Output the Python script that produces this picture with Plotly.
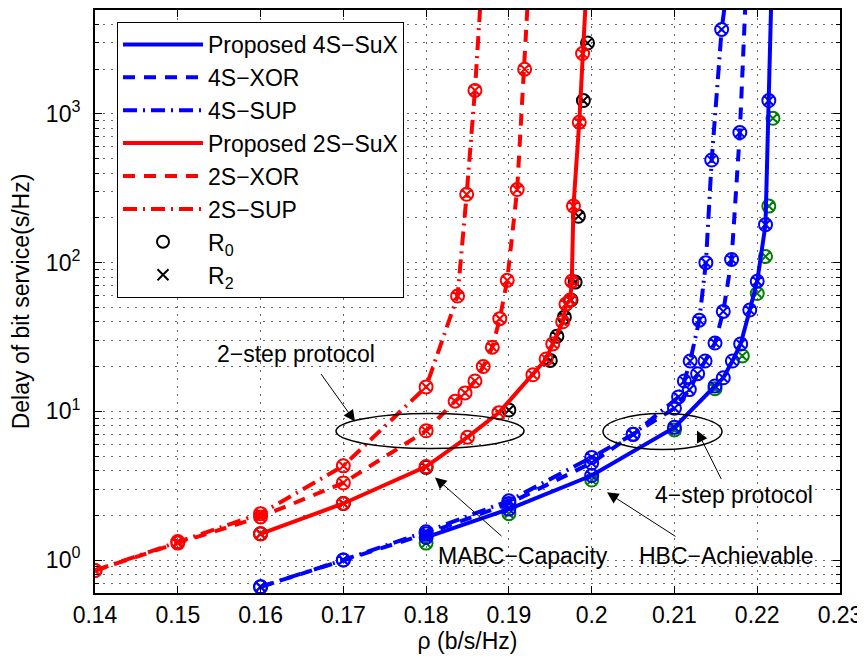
import plotly.graph_objects as go

# ---------------- data ----------------
x_4s_sux = [0.18, 0.19, 0.20, 0.21, 0.2149, 0.2159, 0.2170, 0.2180, 0.2191, 0.2200, 0.2210, 0.2214, 0.2217]
y_4s_sux = [1.42, 2.2, 3.7, 7.8, 14.8, 16.8, 21.8, 28.4, 48, 75, 180, 1230, 6000]

x_4s_xor = [0.16, 0.17, 0.18, 0.19, 0.20, 0.205, 0.21, 0.2118, 0.2128, 0.2137, 0.2149, 0.2159, 0.2169, 0.2179, 0.2186]
y_4s_xor = [0.66, 1.0, 1.5, 2.4, 4.5, 7.0, 10.5, 14, 17.9, 21.8, 28.8, 47, 105, 750, 6000]

x_4s_sup = [0.16, 0.17, 0.18, 0.19, 0.20, 0.205, 0.2105, 0.2112, 0.2119, 0.2130, 0.2138, 0.2145, 0.2157, 0.2162]
y_4s_sup = [0.66, 1.0, 1.55, 2.5, 4.9, 7.0, 12.5, 16, 21.8, 41, 100, 490, 3700, 6000]

x_2s_sux = [0.16, 0.17, 0.18, 0.185, 0.1888, 0.1929, 0.1945, 0.1953, 0.1965, 0.1969, 0.1974, 0.1976, 0.1978, 0.1985, 0.1989, 0.1993]
y_2s_sux = [1.5, 2.4, 4.25, 6.7, 9.8, 17.6, 22.5, 28.4, 40, 52.6, 56, 75, 240, 880, 2550, 6000]

x_2s_xor = [0.14, 0.15, 0.16, 0.17, 0.18, 0.1835, 0.1847, 0.1859, 0.1869, 0.1880, 0.1889, 0.1898, 0.1910, 0.1919, 0.1923]
y_2s_xor = [0.85, 1.3, 1.95, 3.3, 7.4, 11.7, 13.3, 16, 20, 27, 42, 76, 310, 2000, 6000]

x_2s_sup = [0.14, 0.15, 0.16, 0.17, 0.18, 0.1838, 0.1849, 0.1859, 0.1866]
y_2s_sup = [0.85, 1.33, 2.05, 4.3, 14.6, 59.6, 288, 1440, 6000]

# MABC-Capacity (black) and HBC-Achievable (green) reference markers
x_mabc = [0.16, 0.17, 0.18, 0.19, 0.195, 0.1958, 0.1967, 0.1975, 0.1980, 0.1984, 0.1990, 0.1995]
y_mabc = [1.5, 2.4, 4.2, 10.2, 22, 32, 43, 56, 74, 205, 1230, 3000]

x_hbc = [0.18, 0.19, 0.20, 0.21, 0.2149, 0.2182, 0.2200, 0.2210, 0.2214, 0.2219]
y_hbc = [1.3, 2.05, 3.45, 7.5, 14.2, 23.6, 62, 110, 240, 935]

x_ticks = [0.14, 0.15, 0.16, 0.17, 0.18, 0.19, 0.20, 0.21, 0.22, 0.23]
x_ticktext = ["0.14", "0.15", "0.16", "0.17", "0.18", "0.19", "0.2", "0.21", "0.22", "0.23"]
y_ticks = [1, 10, 100, 1000]
y_ticktext = ["10<sup>0</sup>", "10<sup>1</sup>", "10<sup>2</sup>", "10<sup>3</sup>"]

# ---------------- styling ----------------
FONT = "Liberation Sans, Arial, Helvetica, sans-serif"
FS = 23
RED = "#ff0000"
BLUE = "#0000ff"
GREEN = "#008000"
LW = 4
DASH = "12px,9px"
DASHDOT = "14px,6px,2px,6px"
MSIZE = 13

fig = go.Figure()

series = [
    ("Proposed 4S\u2212SuX", x_4s_sux, y_4s_sux, BLUE, "solid"),
    ("4S\u2212XOR", x_4s_xor, y_4s_xor, BLUE, DASH),
    ("4S\u2212SUP", x_4s_sup, y_4s_sup, BLUE, DASHDOT),
    ("Proposed 2S\u2212SuX", x_2s_sux, y_2s_sux, RED, "solid"),
    ("2S\u2212XOR", x_2s_xor, y_2s_xor, RED, DASH),
    ("2S\u2212SUP", x_2s_sup, y_2s_sup, RED, DASHDOT),
]

# reference-curve markers underneath
fig.add_trace(go.Scatter(
    x=x_mabc, y=y_mabc, mode="markers", showlegend=False,
    marker=dict(symbol="circle-x-open", size=MSIZE, color="black", line=dict(width=2, color="black")),
))
fig.add_trace(go.Scatter(
    x=x_hbc, y=y_hbc, mode="markers", showlegend=False,
    marker=dict(symbol="circle-x-open", size=MSIZE, color=GREEN, line=dict(width=2, color=GREEN)),
))

# line layers (with legend)
for i, (name, xs, ys, col, dash) in enumerate(series):
    fig.add_trace(go.Scatter(
        x=xs, y=ys, mode="lines", name=name,
        line=dict(color=col, width=LW, dash=dash),
    ))

# marker layers (no legend)
for name, xs, ys, col, dash in series:
    fig.add_trace(go.Scatter(
        x=xs, y=ys, mode="markers", showlegend=False, hoverinfo="skip",
        marker=dict(symbol="circle-x-open", size=MSIZE, color=col, line=dict(width=2, color=col)),
    ))

# legend-only marker entries
fig.add_trace(go.Scatter(
    x=[None], y=[None], mode="markers", name="R<sub>0</sub>",
    marker=dict(symbol="circle-open", size=12, color="black", line=dict(width=2, color="black")),
))
fig.add_trace(go.Scatter(
    x=[None], y=[None], mode="markers", name="R<sub>2</sub>",
    marker=dict(symbol="x-thin-open", size=11, color="black", line=dict(width=2, color="black")),
))

# ---------------- layout geometry ----------------
# the page body adds an 8px offset; target plot area in the screenshot is x 95..840, y 7..593
OFF = 8
W, H = 865 - OFF, 661 - OFF
L, R, T, B = 95, 840, 8, 593


def px(x):
    return (x - L) / (R - L)


def py(y):
    return (B - y) / (B - T)


shapes = [
    dict(type="circle", xref="paper", yref="paper",
         x0=px(336), x1=px(524), y0=py(448), y1=py(413),
         line=dict(color="black", width=1.5)),
    dict(type="circle", xref="paper", yref="paper",
         x0=px(603), x1=px(722), y0=py(449), y1=py(413),
         line=dict(color="black", width=1.5)),
]

annotations = []
for (tx, ty, txt) in [(296, 353, "2\u2212step protocol"), (523, 556, "MABC\u2212Capacity"),
                      (726, 556, "HBC\u2212Achievable"), (734, 495, "4\u2212step protocol")]:
    annotations.append(dict(x=px(tx), y=py(ty), xref="paper", yref="paper", text=txt,
                            showarrow=False, xanchor="center", yanchor="middle",
                            font=dict(family=FONT, size=FS, color="black")))

for (tipx, tipy, tailx, taily) in [(355, 421, 320, 372), (435, 477, 503, 537),
                                   (607, 492, 677, 537), (697, 430, 722, 480)]:
    annotations.append(dict(x=px(tipx), y=py(tipy), xref="paper", yref="paper", text="",
                            showarrow=True, arrowhead=2, arrowsize=2.3, arrowwidth=1,
                            arrowcolor="black", ax=tailx - tipx, ay=taily - tipy))

minor_y = [m * 10 ** e for e in range(-1, 4) for m in range(2, 10) if 0.6 <= m * 10 ** e <= 5000]

fig.update_layout(
    width=W, height=H,
    margin=dict(l=L - OFF, r=W - (R - OFF), t=T - OFF, b=H - (B - OFF), pad=0),
    paper_bgcolor="white", plot_bgcolor="white",
    font=dict(family=FONT, size=FS, color="black"),
    shapes=shapes, annotations=annotations,
    showlegend=True,
    legend=dict(x=px(117), y=py(20), xanchor="left", yanchor="top",
                bgcolor="white", bordercolor="black", borderwidth=1,
                font=dict(family=FONT, size=FS, color="black"),
                tracegroupgap=0, itemwidth=80),
    xaxis=dict(
        range=[0.14, 0.23], tickmode="array", tickvals=x_ticks, ticktext=x_ticktext,
        showline=True, linecolor="black", linewidth=2, mirror="allticks",
        ticks="inside", ticklen=7, tickcolor="black", tickwidth=1,
        showgrid=True, gridcolor="#666", griddash="1.5px,6.5px", gridwidth=1,
        zeroline=False,
        title=dict(text="\u03c1 (b/s/Hz)", standoff=4, font=dict(family=FONT, size=FS)),
        tickfont=dict(family=FONT, size=FS),
    ),
    yaxis=dict(
        type="log", range=[-0.2218, 3.699], tickmode="array", tickvals=y_ticks, ticktext=y_ticktext,
        showline=True, linecolor="black", linewidth=2, mirror="allticks",
        ticks="inside", ticklen=7, tickcolor="black", tickwidth=1,
        ticklabelstandoff=8,
        showgrid=True, gridcolor="#666", griddash="1.5px,6.5px", gridwidth=1,
        zeroline=False,
        minor=dict(tickmode="array", tickvals=minor_y, ticks="inside", ticklen=4,
                   tickcolor="black", showgrid=True, gridcolor="#666",
                   griddash="1.5px,6.5px", gridwidth=1),
        title=dict(text="Delay of bit service(s/Hz)", standoff=10, font=dict(family=FONT, size=FS)),
        tickfont=dict(family=FONT, size=FS),
    ),
)

fig.write_html("out.html")
